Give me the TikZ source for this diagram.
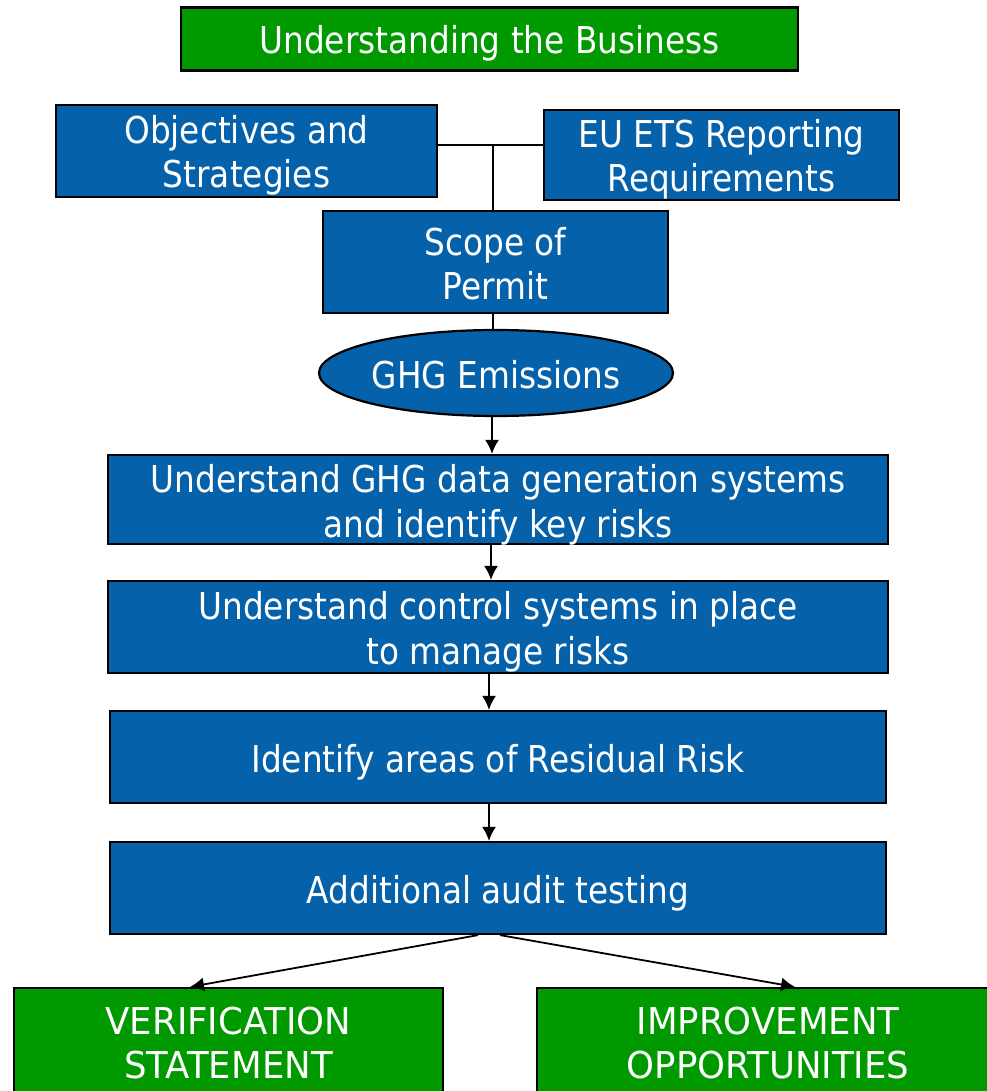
\documentclass[tikz,border=0pt]{standalone}
\usepackage{fontspec}
\setmainfont{DejaVu Sans}
\newfontfamily\fontA[FakeStretch=0.885]{DejaVu Sans}
\newfontfamily\fontB[FakeStretch=0.96]{DejaVu Sans}
\usetikzlibrary{shapes.geometric,arrows.meta}
\definecolor{boxblue}{HTML}{0561A9}
\definecolor{boxgreen}{HTML}{009900}
\begin{document}
\begin{tikzpicture}[x=1pt,y=-1pt,
  base/.style={draw=black, line width=2.2pt, text=white, align=center, inner xsep=0pt, inner ysep=-8pt},
  one/.style={base, execute at begin node={\rule{0pt}{40pt}}, execute at end node={\rule[-10pt]{0pt}{0pt}}},
  two/.style={base, execute at begin node={\rule{0pt}{84pt}}, execute at end node={\rule[-10pt]{0pt}{0pt}}},
  twowide/.style={base, execute at begin node={\rule{0pt}{85pt}}, execute at end node={\rule[-10pt]{0pt}{0pt}}},
  bluebox/.style={fill=boxblue, rectangle, font=\fontA\fontsize{37}{45}\selectfont},
  topblue/.style={two, fill=boxblue, rectangle, font=\fontA\fontsize{37}{44}\selectfont},
  topgreen/.style={one, fill=boxgreen, rectangle, font=\fontA\fontsize{37}{44}\selectfont},
  botgreen/.style={two, fill=boxgreen, rectangle, font=\fontB\fontsize{37}{44}\selectfont},
  ellbox/.style={one, fill=boxblue, ellipse, inner ysep=0pt, font=\fontA\fontsize{37}{44}\selectfont},
  conn/.style={draw=black, line width=2.2pt},
  arr/.style={draw=black, line width=1.8pt, -{Latex[length=14pt,width=14pt]}}
]
\useasboundingbox (0,0) rectangle (986,1091);
\node[topgreen, minimum width=617pt, minimum height=63pt] (ub) at (489.5,39) {Understanding the Business};
\node[topblue, minimum width=381pt, minimum height=92pt] (obj) at (246.5,151) {Objectives and\\Strategies};
\node[topblue, minimum width=355pt, minimum height=90pt] (eu) at (721.5,155) {EU ETS Reporting\\Requirements};
\node[topblue, minimum width=345pt, minimum height=102pt] (scope) at (495.5,262) {Scope of\\Permit};
\node[ellbox, minimum width=354pt, minimum height=86pt] (ghg) at (496,373) {GHG Emissions};
\node[twowide, bluebox, minimum width=780pt, minimum height=89pt] (b1) at (498,499.5) {Understand GHG data generation systems\\and identify key risks};
\node[twowide, bluebox, minimum width=780pt, minimum height=92pt] (b2) at (498,627) {Understand control systems in place\\to manage risks};
\node[one, bluebox, minimum width=776pt, minimum height=92pt] (b3) at (498,757) {Identify areas of Residual Risk};
\node[one, bluebox, minimum width=776pt, minimum height=92pt] (b4) at (498,888) {Additional audit testing};
\node[botgreen, minimum width=429pt, minimum height=107pt] (vs) at (228.5,1041.5) {VERIFICATION\\STATEMENT};
\node[botgreen, minimum width=462pt, minimum height=107pt] (io) at (768,1041.5) {IMPROVEMENT\\OPPORTUNITIES};
\coordinate (j) at (493,145);
\draw[conn] (obj.east |- j) -- (eu.west |- j);
\draw[conn] (j) -- (scope.north -| j);
\draw[conn] (scope.south -| j) -- (ghg.north -| j);
\draw[arr] ([xshift=-4pt]ghg.south) -- ([xshift=-4pt]b1.north -| ghg.south);
\draw[arr] ([xshift=-7pt]b1.south) -- ([xshift=-7pt]b2.north);
\draw[arr] ([xshift=-9pt]b2.south) -- ([xshift=-9pt]b3.north);
\draw[arr] ([xshift=-9pt]b3.south) -- ([xshift=-9pt]b4.north);
\coordinate (s1) at ([xshift=-20pt]b4.south);
\coordinate (s2) at ([xshift=2pt]b4.south);
\draw[arr] (s1) -- (vs.north -| 190,0);
\draw[arr] (s2) -- (io.north -| 795,0);
\end{tikzpicture}
\end{document}
